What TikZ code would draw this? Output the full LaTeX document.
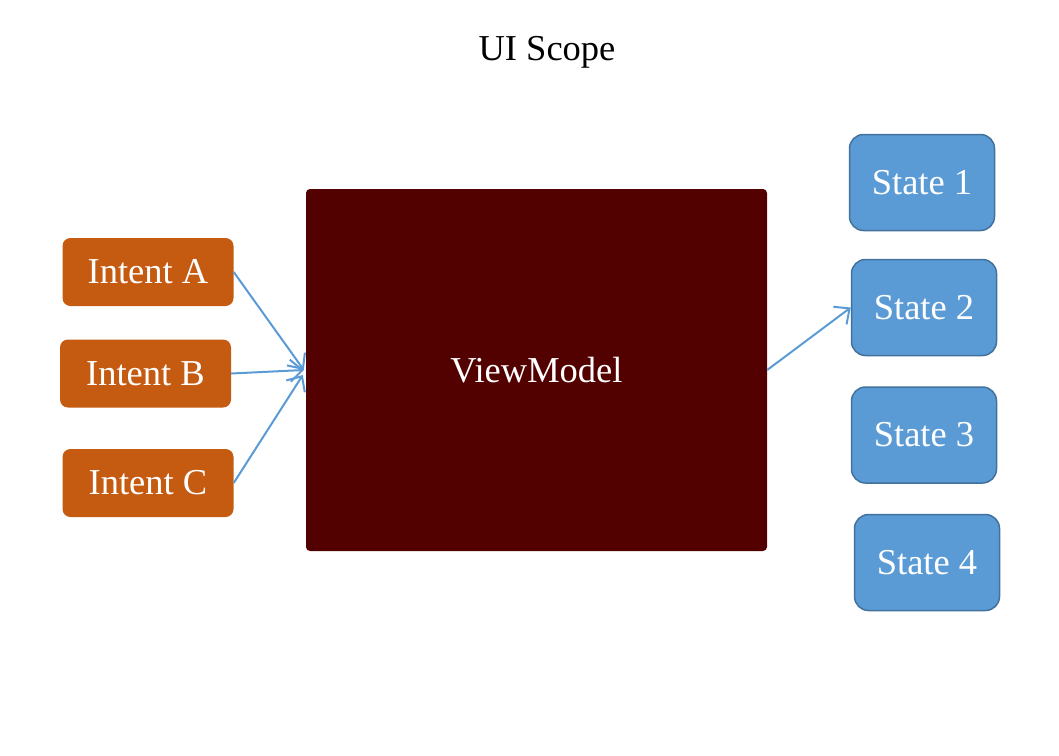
\documentclass[tikz,border=0pt]{standalone}
\usepackage{fontspec}
\setmainfont{Liberation Serif}
\usetikzlibrary{arrows.meta}
\definecolor{intentc}{HTML}{C55A11}
\definecolor{vmc}{HTML}{520000}
\definecolor{statec}{HTML}{5B9BD5}
\definecolor{stated}{HTML}{41719C}
\begin{document}
\begin{tikzpicture}[x=1pt,y=-1pt,
  lbl/.style={font=\fontsize{36.5}{40}\selectfont},
  intentbox/.style={lbl,fill=intentc,text=white,rounded corners=8pt,minimum width=171pt,minimum height=68pt,inner sep=0pt},
  statebox/.style={lbl,fill=statec,draw=stated,line width=1.5pt,text=white,rounded corners=14pt,minimum width=145pt,minimum height=96pt,inner sep=0pt},
  conn/.style={draw=statec,line width=2pt,-{Straight Barb[length=12pt,width=22pt,line width=2pt]}}]
\useasboundingbox (0,0) rectangle (1059,755);
\node[lbl] (title) at (547,52) {UI Scope};
\node[lbl,fill=vmc,text=white,rounded corners=4pt,minimum width=461pt,minimum height=362pt,inner sep=0pt] (vm) at (536.5,370) {ViewModel};
\node[intentbox] (ia) at (148,272) {Intent A};
\node[intentbox] (ib) at (145.5,373.5) {Intent B};
\node[intentbox] (ic) at (148,483) {Intent C};
\node[statebox] (s1) at (922,182.5) {State 1};
\node[statebox] (s2) at (924,307.5) {State 2};
\node[statebox] (s3) at (924,435) {State 3};
\node[statebox] (s4) at (927,562.5) {State 4};
\coordinate (vmin) at ([xshift=-2pt]vm.west);
\coordinate (vmin2) at ([xshift=-3pt,yshift=-5pt]vm.west);
\draw[conn] (ia.east) -- (vmin);
\draw[conn] (ib.east) -- (vmin);
\draw[conn] (ic.east) -- (vmin2);
\draw[conn] (vm.east) -- (s2.west);
\end{tikzpicture}
\end{document}
